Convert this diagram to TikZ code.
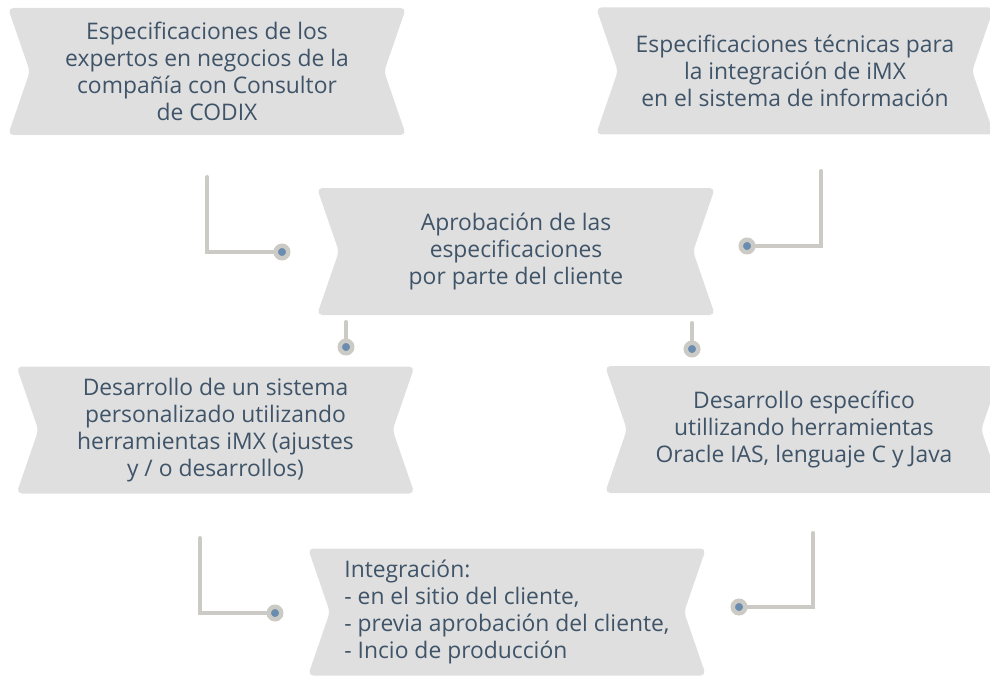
\documentclass[tikz,border=0pt]{standalone}
\usepackage{fontspec}
\setmainfont{Open Sans}
\usetikzlibrary{shapes.symbols}

\definecolor{boxgray}{HTML}{DFDFDF}
\definecolor{txtblue}{HTML}{3F5468}
\definecolor{linegray}{HTML}{CCCAC5}
\definecolor{dotblue}{HTML}{6A8CAF}

\begin{document}
\begin{tikzpicture}[
    font=\fontsize{13}{15.4}\selectfont,
    ribbon/.style={shape=signal, signal from=west and east, signal to=nowhere,
        signal pointer angle=142, fill=boxgray, text=txtblue, align=center,
        minimum width=7.96cm, minimum height=2.54cm, rounded corners=3pt, inner sep=2pt},
    link/.style={draw=linegray, line width=0.08cm, line cap=round},
    dot/.style={circle, draw=linegray, line width=0.09cm, fill=dotblue,
        minimum size=0.25cm, inner sep=0pt}
]
    \useasboundingbox (0,0) rectangle (19.8,-13.54);

    % --- Ribbons ---
    \node[ribbon] (spec1) at (4.14,-1.43) {Especificaciones de los\\expertos en negocios de la\\compañía con Consultor\\de CODIX};
    \node[ribbon] (spec2) at (15.90,-1.42) {Especificaciones técnicas para\\la integración de iMX\\en el sistema de información};
    \node[ribbon] (aprob) at (10.32,-5.03) {Aprobación de las\\especificaciones\\por parte del cliente};
    \node[ribbon] (desa1) at (4.31,-8.60) {Desarrollo de un sistema\\personalizado utilizando\\herramientas iMX (ajustes\\y / o desarrollos)};
    \node[ribbon] (desa2) at (16.08,-8.59) {Desarrollo específico\\utillizando herramientas\\Oracle IAS, lenguaje C y Java};
    \node[ribbon, align=left] (integ) at (10.14,-12.24) {Integración:\\- en el sitio del cliente,\\- previa aprobación del cliente,\\- Incio de producción};

    % --- Dots ---
    \node[dot] (d1) at (5.64,-5.04) {};
    \node[dot] (d2) at (14.94,-4.92) {};
    \node[dot] (d3) at (6.92,-6.94) {};
    \node[dot] (d4) at (13.84,-6.98) {};
    \node[dot] (d5) at (5.50,-12.26) {};
    \node[dot] (d6) at (14.78,-12.14) {};

    % --- Free ends of the links ---
    \coordinate (c1) at (4.14,-3.54);
    \coordinate (c2) at (16.42,-3.42);
    \coordinate (c3) at (6.92,-6.44);
    \coordinate (c4) at (13.84,-6.46);
    \coordinate (c5) at (4.00,-10.76);
    \coordinate (c6) at (16.26,-10.66);

    % --- Links ---
    \draw[link] (c1) |- (d1);
    \draw[link] (c2) |- (d2);
    \draw[link] (c3) -- (d3);
    \draw[link] (c4) -- (d4);
    \draw[link] (c5) |- (d5);
    \draw[link] (c6) |- (d6);

\end{tikzpicture}
\end{document}
